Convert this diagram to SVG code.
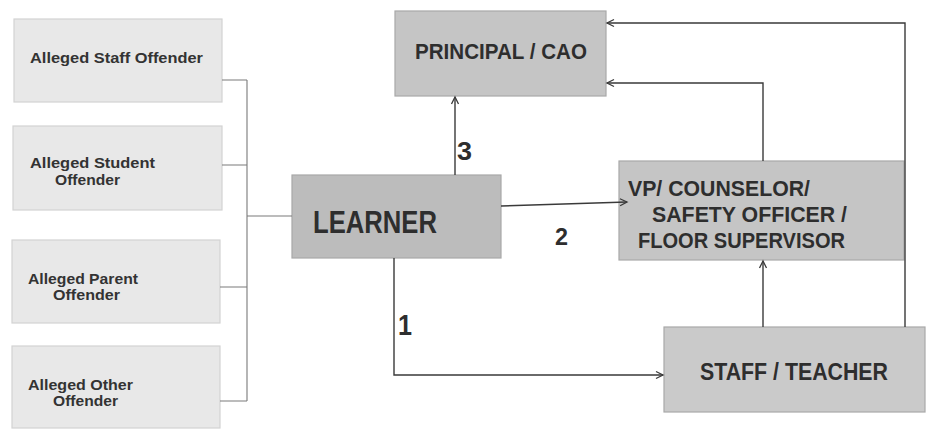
<svg xmlns="http://www.w3.org/2000/svg" width="927" height="430" viewBox="0 0 927 430">
<defs>
<marker id="arr" markerWidth="10" markerHeight="10" refX="8" refY="5" orient="auto" markerUnits="userSpaceOnUse">
<path d="M1,1.5 L8,5 L1,8.5" fill="none" stroke="#3a3a3a" stroke-width="1.3"/>
</marker>
</defs>
<style>
.light{fill:#e8e8e8;stroke:#d2d2d2;stroke-width:1.2}
.dark{fill:#c5c5c5;stroke:#a8a8a8;stroke-width:1.2}
.lt{font-family:"Liberation Sans",Arial,sans-serif;font-weight:bold;font-size:15px;fill:#333}
.bt{font-family:"Liberation Sans",Arial,sans-serif;font-weight:bold;fill:#2e2e2e}
.num{font-family:"Liberation Sans",Arial,sans-serif;font-weight:bold;fill:#2e2e2e}
.br{fill:none;stroke:#7a7a7a;stroke-width:1.1}
.cn{fill:none;stroke:#3a3a3a;stroke-width:1.4}
</style>
<rect width="927" height="430" fill="#ffffff"/>
<g id="staff-offender">
<rect class="light" x="14" y="19" width="208" height="83"/>
<text class="lt" x="30" y="63" textLength="173" lengthAdjust="spacingAndGlyphs">Alleged  Staff Offender</text>
</g>
<g id="student-offender">
<rect class="light" x="13" y="126" width="209" height="84"/>
<text class="lt" x="30" y="168" textLength="125" lengthAdjust="spacingAndGlyphs">Alleged  Student</text>
<text class="lt" x="55" y="185" textLength="65" lengthAdjust="spacingAndGlyphs">Offender</text>
</g>
<g id="parent-offender">
<rect class="light" x="12" y="240" width="208" height="83"/>
<text class="lt" x="28" y="284" textLength="110" lengthAdjust="spacingAndGlyphs">Alleged Parent</text>
<text class="lt" x="53" y="300" textLength="67" lengthAdjust="spacingAndGlyphs">Offender</text>
</g>
<g id="other-offender">
<rect class="light" x="12" y="346" width="208" height="82"/>
<text class="lt" x="28" y="390" textLength="105" lengthAdjust="spacingAndGlyphs">Alleged Other</text>
<text class="lt" x="53" y="406" textLength="65" lengthAdjust="spacingAndGlyphs">Offender</text>
</g>
<g id="learner">
<rect class="dark" x="292" y="175" width="209" height="83" style="fill:#bcbcbc"/>
<text class="bt" x="313" y="233" font-size="31" textLength="124" lengthAdjust="spacingAndGlyphs">LEARNER</text>
</g>
<g id="principal">
<rect class="dark" x="395" y="11" width="211" height="85"/>
<text class="bt" x="415" y="59" font-size="22" textLength="172" lengthAdjust="spacingAndGlyphs">PRINCIPAL / CAO</text>
</g>
<g id="vp">
<rect class="dark" x="619" y="161" width="285" height="99"/>
<text class="bt" x="628" y="196" font-size="22" textLength="182" lengthAdjust="spacingAndGlyphs">VP/ COUNSELOR/</text>
<text class="bt" x="652" y="222" font-size="22" textLength="195" lengthAdjust="spacingAndGlyphs">SAFETY OFFICER /</text>
<text class="bt" x="638" y="248" font-size="22" textLength="207" lengthAdjust="spacingAndGlyphs">FLOOR SUPERVISOR</text>
</g>
<g id="staff-teacher">
<rect class="dark" x="664" y="327" width="261" height="85" style="fill:#cacaca"/>
<text class="bt" x="700" y="380" font-size="24" textLength="188" lengthAdjust="spacingAndGlyphs">STAFF / TEACHER</text>
</g>
<g id="connectors">
<path class="br" d="M222,80 H247 M222,165 H247 M220,287 H247 M220,401 H247 M247,80 V401 M247,216 H292"/>
<path class="cn" d="M455,175 V97" marker-end="url(#arr)"/>
<path class="cn" d="M501,206 L627,202" marker-end="url(#arr)"/>
<path class="cn" d="M394,258 V375 H663" marker-end="url(#arr)"/>
<path class="cn" d="M763,327 V261" marker-end="url(#arr)"/>
<path class="cn" d="M763,161 V83 H607" marker-end="url(#arr)"/>
<path class="cn" d="M905,327 V23 H607" marker-end="url(#arr)"/>
<text class="num" x="457" y="160" font-size="26" textLength="15" lengthAdjust="spacingAndGlyphs">3</text>
<text class="num" x="555" y="245" font-size="24" textLength="13" lengthAdjust="spacingAndGlyphs">2</text>
<text class="num" x="398" y="335" font-size="29" textLength="14" lengthAdjust="spacingAndGlyphs">1</text>
</g>
</svg>
